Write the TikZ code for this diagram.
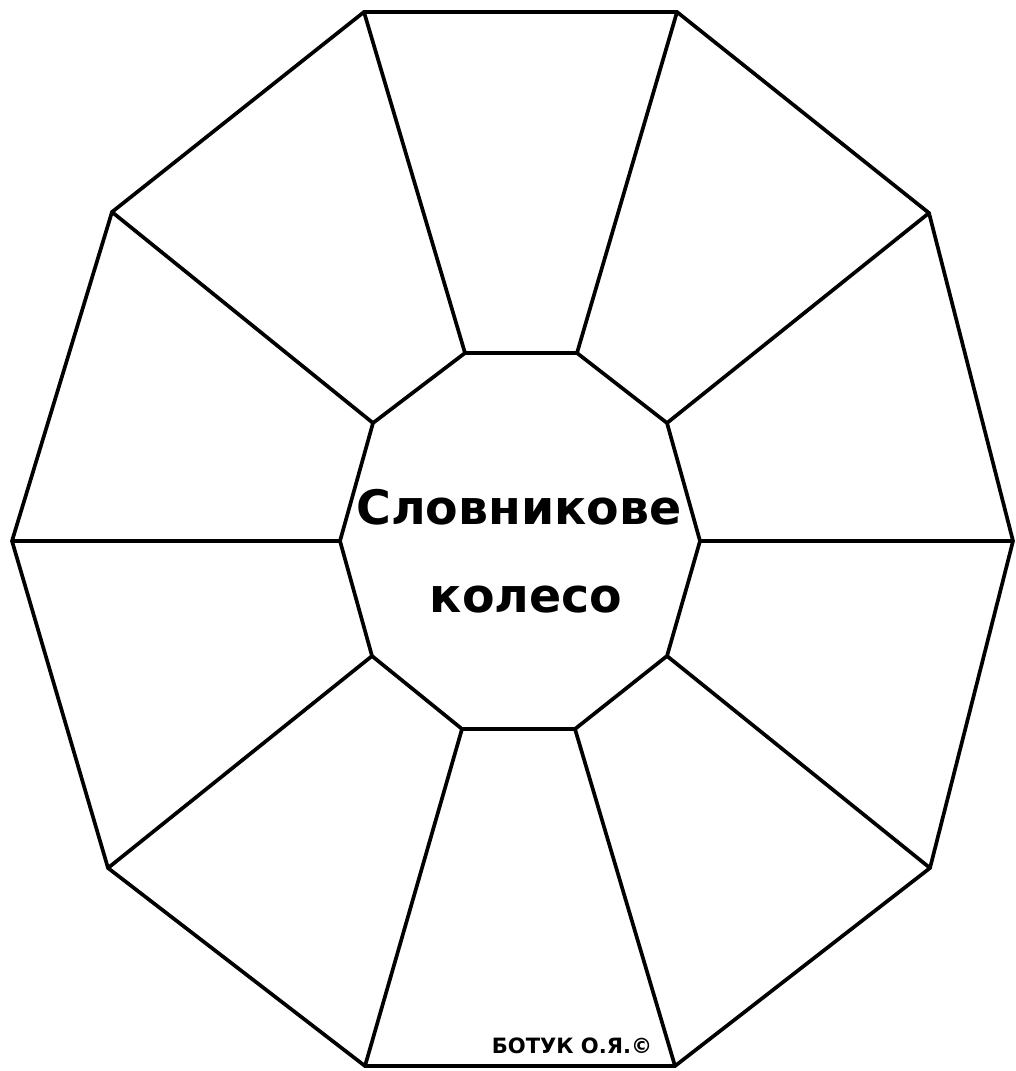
\documentclass[tikz,border=0pt]{standalone}
\usepackage{fontspec}
\setmainfont{DejaVu Sans}
\begin{document}
\begin{tikzpicture}[x=0.02cm,y=-0.02cm,
  edge/.style={line width=2.1pt,line join=miter},
  title/.style={font=\fontsize{27}{30}\selectfont\bfseries,align=center},
  sign/.style={font=\fontsize{12}{14}\selectfont\bfseries}]
\useasboundingbox (0,0) rectangle (1015,1071);
% outer vertices
\coordinate (o1) at (364,12);
\coordinate (o2) at (677,12);
\coordinate (o3) at (929,213);
\coordinate (o4) at (1013,541);
\coordinate (o5) at (930,868);
\coordinate (o6) at (675,1066);
\coordinate (o7) at (365,1066);
\coordinate (o8) at (108,868);
\coordinate (o9) at (12,541);
\coordinate (o10) at (112,212);
% inner vertices
\coordinate (i1) at (465,353);
\coordinate (i2) at (577,353);
\coordinate (i3) at (667,423);
\coordinate (i4) at (700,541);
\coordinate (i5) at (667,656);
\coordinate (i6) at (575,729);
\coordinate (i7) at (462,729);
\coordinate (i8) at (372,656);
\coordinate (i9) at (340,541);
\coordinate (i10) at (373,423);
\draw[edge] (o1)--(o2)--(o3)--(o4)--(o5)--(o6)--(o7)--(o8)--(o9)--(o10)--cycle;
\draw[edge] (i1)--(i2)--(i3)--(i4)--(i5)--(i6)--(i7)--(i8)--(i9)--(i10)--cycle;
\foreach \k in {1,...,10} \draw[edge] (i\k)--(o\k);
\node[title] (t1) at (519,507) {Словникове};
\node[title] (t2) at (526,600) {колесо};
\node[sign] (s) at (572,1046) {БОТУК О.Я.©};
\end{tikzpicture}
\end{document}
